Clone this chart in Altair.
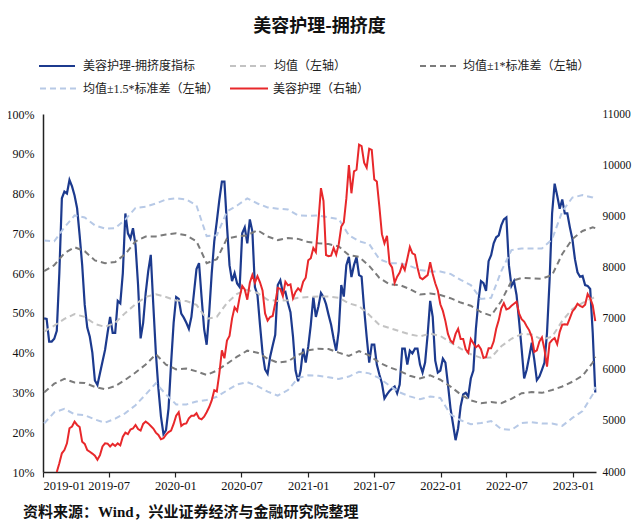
import altair as alt
import pandas as pd

TITLE = "美容护理-拥挤度"
SOURCE = "资料来源：Wind，兴业证券经济与金融研究院整理"

# Weekly crowding indicator (%), from 2019-01-04
crowding = [
    48.6, 48.5, 42.8, 42.8, 43.5, 45.5, 60, 78.8, 80.5, 80,
    83.4, 81.8, 79.5, 76.3, 69.5, 62, 52, 46.3, 44, 40,
    33, 31.9, 34.8, 37.8, 40.7, 45, 49, 45, 45, 53,
    52.4, 60, 75, 70, 68.7, 71.3, 67, 57, 43.6, 47.5,
    55, 60.5, 64.6, 52, 40, 31, 24, 19.5, 20.5, 26,
    37.3, 47.5, 54, 53.5, 49.8, 48.8, 47.5, 46, 49, 55,
    61, 62.5, 54, 46, 42, 50, 60, 68, 73, 78.4,
    83, 83, 72, 62, 58, 60, 57.4, 56.5, 70, 71.5,
    67.5, 73.5, 70.5, 56.5, 54.5, 47, 40, 35.8, 34.7, 39,
    41.8, 44.5, 57, 58.2, 55, 55.3, 52.5, 50.2, 44, 35.5,
    32.8, 35.5, 41, 37.5, 41.5, 47, 54, 49, 51.6, 55,
    54, 52.2, 49.5, 47, 43.5, 40.5, 45.5, 57, 54.1, 62,
    64.1, 59, 62, 64, 59.5, 59.1, 51, 44, 37.5, 42,
    42, 37, 34.5, 32.3, 28.5, 29.5, 30.4, 31, 31.5, 29.8,
    32, 41, 41, 37, 40.5, 39.8, 41, 41, 37, 35,
    37.5, 44.5, 53, 49, 38, 35, 35.5, 38.5, 37.5, 32,
    26, 22, 18, 21, 26.5, 29.5, 29.9, 29, 33.5, 35.5,
    46, 53, 58, 57.5, 55.5, 63, 64.5, 67.5, 69, 69.5,
    72, 73.5, 74, 62, 56.8, 58, 54.5, 48, 41, 33.5,
    35.7, 39, 42.5, 38.2, 33.1, 34, 35.7, 37.5, 45, 58,
    75, 82.5, 79.5, 76.2, 78.5, 75, 75, 71.5, 68.5, 63.5,
    60.2, 59.1, 59.3, 57, 56.8, 56, 45, 30,
]

# Beauty & personal care index (right axis), starts at week 5
RED_START = 5
beauty_index = [
    4000, 4170, 4366, 4430, 4560,
    4855, 4890, 4985, 4920, 4880, 4590, 4550, 4430, 4395, 4360,
    4320, 4240, 4330, 4500, 4561, 4555, 4500, 4550, 4510, 4560,
    4520, 4690, 4770, 4740, 4830, 4850, 4920, 4840, 4810, 4940,
    4985, 4950, 4900, 4850, 4770, 4724, 4640, 4660, 4730, 4780,
    4810, 4940, 5100, 5170, 4900, 4940, 4950, 5050, 5100, 5100,
    5150, 5050, 5030, 5080, 5170, 5270, 5400, 5600, 5575, 5930,
    6380, 6223, 6570, 6660, 7000, 7220, 7150, 7420, 7640, 7570,
    7370, 7700, 7852, 7700, 7830, 7710, 7550, 7100, 6960, 7030,
    7050, 7300, 7600, 7580, 7440, 7720, 7650, 7670, 7400, 7520,
    7590, 7540, 7720, 7800, 8140, 8180, 8380, 8300, 8900, 9550,
    9300, 8243, 8220, 8230, 8380, 8250, 8450, 8800, 8880, 9350,
    10000, 9450, 9880, 9910, 10400, 10370, 10050, 9950, 10320, 10297,
    9720, 9680, 9188, 8650, 8472, 8620, 8080, 8000, 7700, 7820,
    7900, 8050, 7950, 8170, 8400, 8276, 8250, 8000, 7800, 7770,
    7810, 7850, 8100, 7870, 7690, 7550, 7280, 7150, 6950, 6700,
    6570, 6520, 6700, 6800, 6600, 6600, 6400, 6330, 6600, 6516,
    6440, 6480, 6400, 6230, 6250, 6420, 6420, 6550, 6800, 6970,
    7200, 7300, 7180, 7200, 7250, 7290, 7330, 7100, 6990, 6940,
    6850, 6770, 6640, 6350, 6380, 6550, 6630, 6400, 6060, 6520,
    6580, 6620, 6500, 6740, 6880, 6890, 6880, 7010, 7140, 7200,
    7290, 7250, 7225, 7270, 7480, 7400, 7260, 6950,
]

# Rolling bands (%), sampled every 4 weeks plus the last week
band_weeks = list(range(0, 217, 4)) + [217]
upper_15 = [68.2, 68, 71.5, 74.5, 74, 72, 71.2, 71.3, 73.5, 76.4,
            76.7, 77.5, 78.5, 78.8, 78.5, 77, 69.3, 69.5, 75.5, 77,
            78.8, 77.5, 76.5, 76.2, 76, 74.5, 74.4, 74.5, 74, 73.6,
            69.5, 68, 67.3, 63.5, 62.5, 62.5, 61.8, 60.8, 60.4, 60.4,
            59.8, 58.3, 57, 53.5, 53.8, 60.5, 65.8, 66.2, 66.2, 66.2,
            68.5, 75.5, 79, 79.6, 79, 78.7]
upper_1 = [60.5, 62, 65, 66.5, 65.5, 63.2, 62.5, 62.8, 64.8, 68,
           69.2, 69.2, 69.7, 70, 69.5, 68, 62.5, 63.5, 68.7, 69.2,
           69.5, 70.8, 69.2, 68.3, 68.8, 68.6, 67.8, 67.5, 67.3, 66.7,
           64.5, 64.1, 61.8, 58.8, 57.2, 57, 56, 54.6, 54.9, 54.5,
           53.7, 52.6, 51.8, 50.2, 49.3, 53, 58, 58.8, 58.7, 58.6,
           59.5, 64.8, 68.6, 70.6, 71.5, 71.3]
mean_line = [45.3, 46.8, 48.5, 49.7, 49, 47.2, 46.5, 47.5, 50, 52.2,
             54, 54.7, 54, 53.1, 53, 52, 48.5, 49, 52.5, 54.8,
             55.8, 55, 53.3, 53, 53.2, 53.8, 54, 54.1, 54.1, 53.8,
             52.4, 51.7, 49.5, 47, 46.2, 45.4, 44.6, 44.1, 44.8, 44.2,
             42.6, 41, 39.6, 38.7, 38.8, 41.6, 43.5, 44.7, 44.6, 43.3,
             44, 48, 51, 52.5, 53.7, 54.1]
lower_1 = [30, 32.2, 33.4, 32.5, 32.4, 31.4, 30.8, 31.6, 33.2, 35,
           37, 39.6, 37, 35.8, 36, 35.3, 34.4, 35.5, 37.2, 39,
           40.5, 40, 38.5, 37.5, 37.8, 39.4, 40.6, 41, 40.9, 40,
           39.2, 40.4, 39.3, 37.5, 36.3, 35.4, 34.2, 33.5, 34.3, 33.2,
           31.5, 29.5, 28, 27.3, 27.6, 27.3, 28.4, 29.8, 30.1, 29.9,
           30.6, 31.5, 32.7, 34.2, 37.5, 39]
lower_15 = [22.2, 25, 25.9, 24.5, 24.3, 23.2, 22.4, 23.4, 24.8, 26.8,
            29.5, 32.3, 29.5, 27, 27, 27.7, 28.1, 28.9, 30.5, 32,
            32.6, 31.6, 30.2, 29.2, 30.6, 33.6, 34.3, 34.2, 33.8, 33.4,
            34, 35.2, 34.8, 33.6, 31.7, 30, 29, 28.3, 29, 28.6,
            24.5, 23, 22, 22.3, 22.8, 20.8, 20.6, 22.3, 22.5, 22.2,
            22.2, 21.6, 23.6, 25.3, 29.5, 31.4]

left_ticks = [0.1, 0.2, 0.3, 0.4, 0.5, 0.6, 0.7, 0.8, 0.9, 1.0]
right_ticks = [4000, 5000, 6000, 7000, 8000, 9000, 10000, 11000]
tick_months = [(2019, 1), (2019, 7), (2020, 1), (2020, 7), (2021, 1),
               (2021, 7), (2022, 1), (2022, 7), (2023, 1)]

# ---------------- tables ----------------
weeks = pd.date_range("2019-01-04", periods=len(crowding), freq="7D")
blue_df = pd.DataFrame({"date": weeks, "v": [c / 100 for c in crowding]})
red_df = pd.DataFrame({"date": weeks[RED_START:RED_START + len(beauty_index)],
                       "v": beauty_index})
bands = []
for name, style, vals in [("u15", "s15", upper_15), ("u1", "s1", upper_1),
                          ("m", "mean", mean_line), ("l1", "s1", lower_1),
                          ("l15", "s15", lower_15)]:
    for k, v in zip(band_weeks, vals):
        bands.append({"date": weeks[k], "v": v / 100, "band": name, "style": style})
band_df = pd.DataFrame(bands)

BLUE = "#1c3a8e"
RED = "#e8282b"
GREY_MEAN = "#c3c3c3"
GREY_DARK = "#7b7b7b"
LIGHT_BLUE = "#b7c9e6"
SERIF = "Liberation Serif"
CJK = "Liberation Serif, Noto Sans CJK SC"

x_enc = alt.X(
    "date:T",
    scale=alt.Scale(domain=[alt.DateTime(year=2019, month=1, date=1),
                            alt.DateTime(year=2023, month=3, date=5)]),
    axis=alt.Axis(values=[alt.DateTime(year=y, month=m, date=1) for y, m in tick_months],
                  format="%Y-%m", title=None, grid=False,
                  domainColor="#222222", domainWidth=1.5,
                  tickColor="#222222", tickSize=5, tickWidth=1.2,
                  labelFont=SERIF, labelFontSize=12.5, labelColor="#111111",
                  labelPadding=2),
)

y_left = alt.Y(
    "v:Q",
    scale=alt.Scale(domain=[0.1, 1.0], nice=False, zero=False),
    axis=alt.Axis(values=left_ticks, format=".0%", title=None, grid=False,
                  ticks=False, domainColor="#222222", domainWidth=1.5,
                  labelFont=SERIF, labelFontSize=12, labelColor="#111111",
                  labelPadding=9),
)

blue = alt.Chart(blue_df).mark_line(color=BLUE, strokeWidth=2.2).encode(x=x_enc, y=y_left)

band_lines = alt.Chart(band_df).mark_line(strokeWidth=2, strokeDash=[6, 4]).encode(
    x=x_enc, y=y_left, detail="band:N",
    color=alt.Color("style:N", legend=None,
                    scale=alt.Scale(domain=["mean", "s1", "s15"],
                                    range=[GREY_MEAN, GREY_DARK, LIGHT_BLUE])),
)

left = alt.layer(blue, band_lines)

red = alt.Chart(red_df).mark_line(color=RED, strokeWidth=2).encode(
    x=x_enc,
    y=alt.Y("v:Q",
            scale=alt.Scale(domain=[4000, 11000], nice=False, zero=False),
            axis=alt.Axis(values=right_ticks, format="d", orient="right", title=None,
                          grid=False, ticks=False, domain=False,
                          labelFont=SERIF, labelFontSize=11.5, labelColor="#111111",
                          labelPadding=6)),
)

# ---------------- manual legend ----------------
def key(x1, x2, y, color, dash=None, width=2.2):
    kw = {"color": color, "strokeWidth": width}
    if dash:
        kw["strokeDash"] = dash
    return alt.Chart().mark_rule(**kw).encode(
        x=alt.value(x1), x2=alt.value(x2), y=alt.value(y))

def label(x, y, txt):
    return alt.Chart().mark_text(align="left", baseline="middle", font=CJK,
                                 fontSize=12, color="#222222").encode(
        x=alt.value(x), y=alt.value(y), text=alt.value(txt))

R1, R2 = -48, -25.5
legend_parts = [
    key(-4, 32, R1, BLUE), label(40, R1, "美容护理-拥挤度指标"),
    key(187, 225, R1, GREY_MEAN, [6, 4], 2), label(231, R1, "均值（左轴）"),
    key(377, 417, R1, GREY_DARK, [6, 4], 2), label(420, R1, "均值±1*标准差（左轴）"),
    key(-3, 36, R2, LIGHT_BLUE, [6, 4], 2), label(40, R2, "均值±1.5*标准差（左轴）"),
    key(187, 225, R2, RED, None, 2.2), label(230, R2, "美容护理（右轴）"),
]

source = alt.Chart().mark_text(align="left", baseline="middle", font=CJK,
                               fontSize=15, fontWeight="bold", color="#111111").encode(
    x=alt.value(-20), y=alt.value(398), text=alt.value(SOURCE))

chart = alt.layer(left, red, *legend_parts, source).resolve_scale(
    y="independent"
).properties(
    width=553, height=358,
    title=alt.Title(TITLE, font="Noto Sans CJK SC", fontSize=18, fontWeight="bold",
                    anchor="middle", offset=24, color="#111111"),
    autosize=alt.AutoSizeParams(type="none"),
    padding={"left": 35, "top": 106, "right": 36, "bottom": 50},
).configure_view(stroke=None)

chart.save("out.html", embed_options={"renderer": "svg", "actions": False})
